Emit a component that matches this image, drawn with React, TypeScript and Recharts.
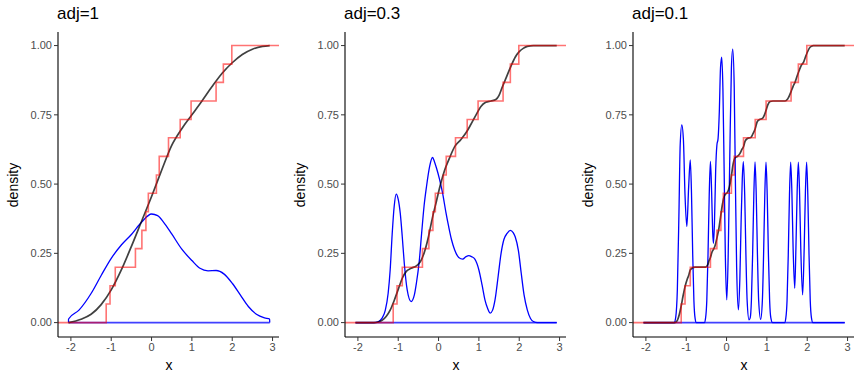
import React from 'react';
import { ComposedChart, Line, XAxis, YAxis } from 'recharts';

// sample points behind the ECDF steps
const sampleX = [-1.125, -1.03, -0.9, -0.4, -0.24, -0.14, -0.08, 0.12, 0.19, 0.42, 0.71, 0.98, 1.6, 1.78, 1.99];
const ecdfY = [0.067, 0.133, 0.2, 0.267, 0.333, 0.4, 0.467, 0.533, 0.6, 0.667, 0.733, 0.8, 0.867, 0.933, 1];

const xTicks = [-2, -1, 0, 1, 2, 3];
const yTicks = [0, 0.25, 0.5, 0.75, 1];
const titles = ['adj=1', 'adj=0.3', 'adj=0.1'];

// adj=1
const dens1X = [-2.06, -2.059, -1.8, -1.5, -1.25, -1.0, -0.75, -0.5, -0.25, 0, 0.15, 0.3, 0.5, 0.75, 1.0, 1.2, 1.4, 1.6, 1.8, 2.0, 2.2, 2.4, 2.6, 2.8, 2.929, 2.93];
const dens1Y = [0, 0.013, 0.045, 0.105, 0.17, 0.232, 0.28, 0.318, 0.362, 0.392, 0.386, 0.362, 0.32, 0.265, 0.224, 0.196, 0.187, 0.188, 0.175, 0.142, 0.1, 0.058, 0.03, 0.017, 0.013, 0];
const cdf1X = [-2.06, -1.75, -1.5, -1.25, -1.0, -0.75, -0.5, -0.25, 0, 0.25, 0.5, 0.75, 1.0, 1.25, 1.5, 1.75, 2.0, 2.25, 2.5, 2.75, 2.93];
const cdf1Y = [0, 0.012, 0.03, 0.065, 0.118, 0.19, 0.275, 0.365, 0.455, 0.55, 0.64, 0.7, 0.75, 0.8, 0.852, 0.9, 0.938, 0.968, 0.987, 0.997, 1];

// adj=0.3
const dens2X = [-2.06, -1.6, -1.5, -1.4, -1.32, -1.25, -1.2, -1.15, -1.1, -1.05, -1.0, -0.95, -0.9, -0.85, -0.78, -0.68, -0.6, -0.55, -0.48, -0.42, -0.36, -0.3, -0.22, -0.15, -0.1, -0.05, 0.02, 0.1, 0.18, 0.25, 0.32, 0.4, 0.5, 0.6, 0.68, 0.75, 0.82, 0.9, 1.0, 1.08, 1.15, 1.22, 1.28, 1.34, 1.4, 1.48, 1.55, 1.62, 1.7, 1.78, 1.85, 1.9, 1.98, 2.05, 2.12, 2.2, 2.28, 2.35, 2.45, 2.93];
const dens2Y = [0, 0, 0.003, 0.016, 0.045, 0.106, 0.19, 0.32, 0.42, 0.464, 0.445, 0.395, 0.31, 0.214, 0.12, 0.076, 0.1, 0.142, 0.22, 0.322, 0.42, 0.49, 0.565, 0.596, 0.58, 0.557, 0.52, 0.467, 0.4, 0.347, 0.3, 0.262, 0.235, 0.229, 0.238, 0.242, 0.238, 0.229, 0.19, 0.135, 0.082, 0.05, 0.034, 0.045, 0.082, 0.17, 0.25, 0.3, 0.322, 0.333, 0.325, 0.31, 0.26, 0.178, 0.1, 0.046, 0.015, 0.004, 0, 0];
const cdf2X = [-2.06, -1.6, -1.5, -1.4, -1.3, -1.2, -1.1, -1.0, -0.9, -0.8, -0.68, -0.55, -0.45, -0.35, -0.25, -0.15, -0.05, 0.05, 0.15, 0.26, 0.4, 0.55, 0.68, 0.8, 0.93, 1.05, 1.17, 1.3, 1.42, 1.5, 1.58, 1.68, 1.79, 1.9, 2.0, 2.1, 2.2, 2.35, 2.93];
const cdf2Y = [0, 0, 0.002, 0.008, 0.022, 0.045, 0.08, 0.12, 0.16, 0.185, 0.196, 0.205, 0.22, 0.255, 0.31, 0.38, 0.44, 0.5, 0.55, 0.59, 0.635, 0.66, 0.685, 0.715, 0.75, 0.78, 0.795, 0.8, 0.805, 0.82, 0.85, 0.885, 0.924, 0.958, 0.978, 0.99, 0.997, 1, 1];

// adj=0.1
const dens3X = [-2.06, -1.3, -1.26, -1.22, -1.18, -1.15, -1.11, -1.07, -1.03, -0.985, -0.94, -0.9, -0.87, -0.84, -0.81, -0.78, -0.75, -0.55, -0.52, -0.49, -0.46, -0.43, -0.4, -0.37, -0.345, -0.325, -0.3, -0.27, -0.24, -0.21, -0.18, -0.15, -0.12, -0.09, -0.06, -0.03, 0.005, 0.04, 0.08, 0.12, 0.153, 0.19, 0.22, 0.25, 0.294, 0.33, 0.36, 0.39, 0.417, 0.45, 0.48, 0.51, 0.557, 0.586, 0.616, 0.646, 0.676, 0.706, 0.736, 0.766, 0.796, 0.846, 0.888, 0.918, 0.948, 0.978, 1.008, 1.038, 1.068, 1.098, 1.14, 1.44, 1.47, 1.5, 1.53, 1.56, 1.59, 1.62, 1.65, 1.69, 1.72, 1.75, 1.78, 1.81, 1.84, 1.886, 1.925, 1.955, 1.985, 2.015, 2.045, 2.075, 2.105, 2.14, 2.93];
const dens3Y = [0, 0, 0.02, 0.12, 0.4, 0.64, 0.714, 0.66, 0.46, 0.347, 0.49, 0.587, 0.47, 0.25, 0.08, 0.015, 0, 0, 0.017, 0.08, 0.245, 0.46, 0.582, 0.47, 0.33, 0.286, 0.36, 0.55, 0.64, 0.665, 0.76, 0.92, 0.958, 0.84, 0.55, 0.24, 0.082, 0.24, 0.6, 0.92, 0.987, 0.85, 0.5, 0.2, 0.046, 0.16, 0.36, 0.52, 0.581, 0.46, 0.245, 0.08, 0.01, 0.017, 0.08, 0.245, 0.46, 0.58, 0.46, 0.245, 0.08, 0.012, 0.08, 0.245, 0.46, 0.579, 0.46, 0.245, 0.08, 0.017, 0, 0, 0.017, 0.08, 0.245, 0.46, 0.579, 0.47, 0.27, 0.124, 0.27, 0.47, 0.579, 0.47, 0.27, 0.1, 0.27, 0.47, 0.579, 0.46, 0.245, 0.08, 0.017, 0, 0];
const cdf3X = [-2.06, -1.28, -1.22, -1.17, -1.125, -1.08, -1.03, -0.98, -0.94, -0.9, -0.85, -0.78, -0.52, -0.47, -0.43, -0.4, -0.36, -0.32, -0.28, -0.24, -0.19, -0.15, -0.11, -0.07, -0.03, 0.02, 0.07, 0.12, 0.16, 0.21, 0.27, 0.33, 0.38, 0.42, 0.46, 0.52, 0.6, 0.65, 0.71, 0.76, 0.82, 0.89, 0.94, 0.98, 1.02, 1.08, 1.15, 1.45, 1.51, 1.56, 1.6, 1.65, 1.7, 1.75, 1.8, 1.85, 1.91, 1.96, 2.0, 2.05, 2.1, 2.15, 2.93];
const cdf3Y = [0, 0, 0.008, 0.03, 0.06, 0.095, 0.13, 0.155, 0.17, 0.19, 0.197, 0.2, 0.2, 0.208, 0.225, 0.235, 0.255, 0.265, 0.28, 0.305, 0.34, 0.38, 0.42, 0.45, 0.463, 0.47, 0.49, 0.53, 0.57, 0.595, 0.6, 0.61, 0.625, 0.635, 0.655, 0.665, 0.668, 0.68, 0.7, 0.725, 0.733, 0.737, 0.75, 0.767, 0.785, 0.798, 0.8, 0.8, 0.806, 0.82, 0.834, 0.853, 0.868, 0.89, 0.91, 0.928, 0.94, 0.96, 0.975, 0.99, 0.997, 1, 1];

const zip = (xs: number[], ys: number[]) => xs.map((x, i) => ({ x, y: ys[i] }));

const ecdfData = [{ x: -2.32, y: 0 }, ...zip(sampleX, ecdfY), { x: 3.16, y: 1 }];
const baseData = [{ x: -2.06, y: 0 }, { x: 2.93, y: 0 }];

const panels = [
  { dens: zip(dens1X, dens1Y), cdf: zip(cdf1X, cdf1Y) },
  { dens: zip(dens2X, dens2Y), cdf: zip(cdf2X, cdf2Y) },
  { dens: zip(dens3X, dens3Y), cdf: zip(cdf3X, cdf3Y) },
];

const FONT = '"Liberation Sans", Arial, sans-serif';
const lefts = [0, 287, 575];

const Panel = ({ idx }: { idx: number }) => {
  const p = panels[idx];
  const left = lefts[idx];
  return (
    <>
      <div style={{ position: 'absolute', left: left + 57, top: 4, fontSize: 17, color: '#000' }}>{titles[idx]}</div>
      <div style={{ position: 'absolute', left: left + 158, top: 357, width: 22, textAlign: 'center', fontSize: 14, color: '#000' }}>x</div>
      <div
        style={{
          position: 'absolute', left: left + 12.5, top: 184.5, fontSize: 14, color: '#000',
          transform: 'translate(-50%, -50%) rotate(-90deg)', whiteSpace: 'nowrap',
        }}
      >
        density
      </div>
      <div style={{ position: 'absolute', left, top: 0 }}>
        <ComposedChart width={287} height={377} margin={{ top: 32, right: 8, left: 0, bottom: 0 }}>
          <XAxis
            dataKey="x" type="number" domain={[-2.32, 3.16]} ticks={xTicks} allowDataOverflow
            height={40} tickSize={4} tickMargin={2}
            axisLine={{ stroke: '#000', strokeWidth: 1.1 }} tickLine={{ stroke: '#333' }}
            tick={{ fill: '#4d4d4d', fontSize: 11, fontFamily: FONT }}
          />
          <YAxis
            type="number" domain={[-0.052, 1.049]} ticks={yTicks} allowDataOverflow
            width={58} tickSize={4} tickMargin={2}
            tickFormatter={(v: number) => v.toFixed(2)}
            axisLine={{ stroke: '#000', strokeWidth: 1.1 }} tickLine={{ stroke: '#333' }}
            tick={{ fill: '#4d4d4d', fontSize: 11, fontFamily: FONT }}
          />
          <Line data={baseData} dataKey="y" type="linear" stroke="#0000ff" strokeOpacity={0.75} strokeWidth={1.6} dot={false} activeDot={false} isAnimationActive={false} />
          <Line data={p.dens} dataKey="y" type="monotone" stroke="#0000ff" strokeWidth={1.3} dot={false} activeDot={false} isAnimationActive={false} />
          <Line data={p.cdf} dataKey="y" type="monotone" stroke="#000" strokeOpacity={0.75} strokeWidth={1.7} dot={false} activeDot={false} isAnimationActive={false} />
          <Line data={ecdfData} dataKey="y" type="stepAfter" stroke="#ff0000" strokeOpacity={0.55} strokeWidth={1.6} dot={false} activeDot={false} isAnimationActive={false} />
        </ComposedChart>
      </div>
    </>
  );
};

export default function App() {
  return (
    <div style={{ position: 'absolute', left: 0, top: 0, width: 862, height: 377, background: '#fff', fontFamily: FONT, overflow: 'hidden' }}>
      <Panel idx={0} />
      <Panel idx={1} />
      <Panel idx={2} />
    </div>
  );
}
